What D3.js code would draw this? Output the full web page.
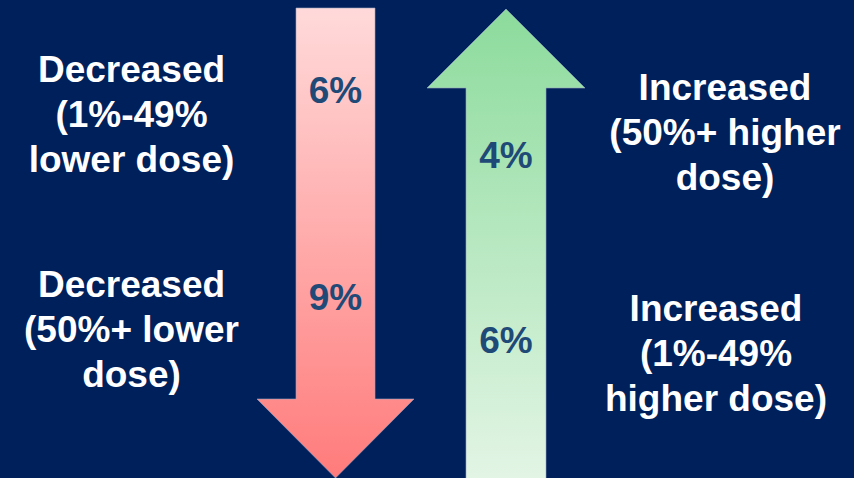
<!DOCTYPE html>
<html>
<head>
<meta charset="utf-8">
<script src="https://cdn.jsdelivr.net/npm/d3@7"></script>
<style>
  body { margin: 0; background: #00205b; }
  svg { display: block; font-family: "Liberation Sans", Arial, sans-serif; font-weight: bold; }
</style>
</head>
<body>
<svg></svg>
<script>
// shares of patients by dose change
var downValues = ["6%", "9%"];          // red arrow, top to bottom
var upValues = ["4%", "6%"];            // green arrow, top to bottom
var leftLabels = [
  ["Decreased", "(1%-49%", "lower dose)"],
  ["Decreased", "(50%+ lower", "dose)"]
];
var rightLabels = [
  ["Increased", "(50%+ higher", "dose)"],
  ["Increased", "(1%-49%", "higher dose)"]
];

var width = 854, height = 478;

var svg = d3.select("svg")
    .attr("width", width)
    .attr("height", height);

svg.append("rect")
    .attr("width", width)
    .attr("height", height)
    .attr("fill", "#00205b");

var defs = svg.append("defs");

var gRed = defs.append("linearGradient")
    .attr("id", "redGrad")
    .attr("x1", 0).attr("y1", 0).attr("x2", 0).attr("y2", 1);
gRed.append("stop").attr("offset", "0%").attr("stop-color", "#ffdada");
gRed.append("stop").attr("offset", "100%").attr("stop-color", "#ff7b7b");

var gGreen = defs.append("linearGradient")
    .attr("id", "greenGrad")
    .attr("x1", 0).attr("y1", 0).attr("x2", 0).attr("y2", 1);
gGreen.append("stop").attr("offset", "0%").attr("stop-color", "#8cdb9c");
gGreen.append("stop").attr("offset", "100%").attr("stop-color", "#e3f5e5");

function downArrow(cx) {
  var sw = 39.5, hw = 78.5, top = 8, base = 399, tip = 478;
  return "M" + (cx - sw) + "," + top + "L" + (cx + sw) + "," + top +
    "L" + (cx + sw) + "," + base + "L" + (cx + hw) + "," + base +
    "L" + cx + "," + tip + "L" + (cx - hw) + "," + base +
    "L" + (cx - sw) + "," + base + "Z";
}
function upArrow(cx) {
  var sw = 40, hw = 79, tip = 9, base = 88, bottom = 480;
  return "M" + cx + "," + tip + "L" + (cx + hw) + "," + base +
    "L" + (cx + sw) + "," + base + "L" + (cx + sw) + "," + bottom +
    "L" + (cx - sw) + "," + bottom + "L" + (cx - sw) + "," + base +
    "L" + (cx - hw) + "," + base + "Z";
}

var redX = 335.5, greenX = 506;

svg.append("path")
    .attr("d", downArrow(redX))
    .attr("fill", "url(#redGrad)")
    .attr("stroke", "#9aa6c4")
    .attr("stroke-width", 0.6);

svg.append("path")
    .attr("d", upArrow(greenX))
    .attr("fill", "url(#greenGrad)")
    .attr("stroke", "#9aa6c4")
    .attr("stroke-width", 0.6);

// value labels inside arrows
var valueY = [103, 310];
svg.selectAll(".down-val")
    .data(downValues)
  .enter().append("text")
    .attr("class", "down-val")
    .attr("x", redX)
    .attr("y", function(d, i) { return valueY[i]; })
    .attr("text-anchor", "middle")
    .attr("font-size", 37)
    .attr("fill", "#1f4a78")
    .text(function(d) { return d; });

var upValueY = [168, 353];
svg.selectAll(".up-val")
    .data(upValues)
  .enter().append("text")
    .attr("class", "up-val")
    .attr("x", greenX)
    .attr("y", function(d, i) { return upValueY[i]; })
    .attr("text-anchor", "middle")
    .attr("font-size", 37)
    .attr("fill", "#1f4a78")
    .text(function(d) { return d; });

// side labels
function labelBlock(lines, cx, y0) {
  var t = svg.append("text")
      .attr("text-anchor", "middle")
      .attr("font-size", 37)
      .attr("fill", "#ffffff");
  t.selectAll("tspan")
      .data(lines)
    .enter().append("tspan")
      .attr("x", cx)
      .attr("y", function(d, i) { return y0 + i * 45; })
      .text(function(d) { return d; });
}

labelBlock(leftLabels[0], 131.5, 82);
labelBlock(leftLabels[1], 131.5, 297);
labelBlock(rightLabels[0], 725, 100);
labelBlock(rightLabels[1], 716, 321);
</script>
</body>
</html>
